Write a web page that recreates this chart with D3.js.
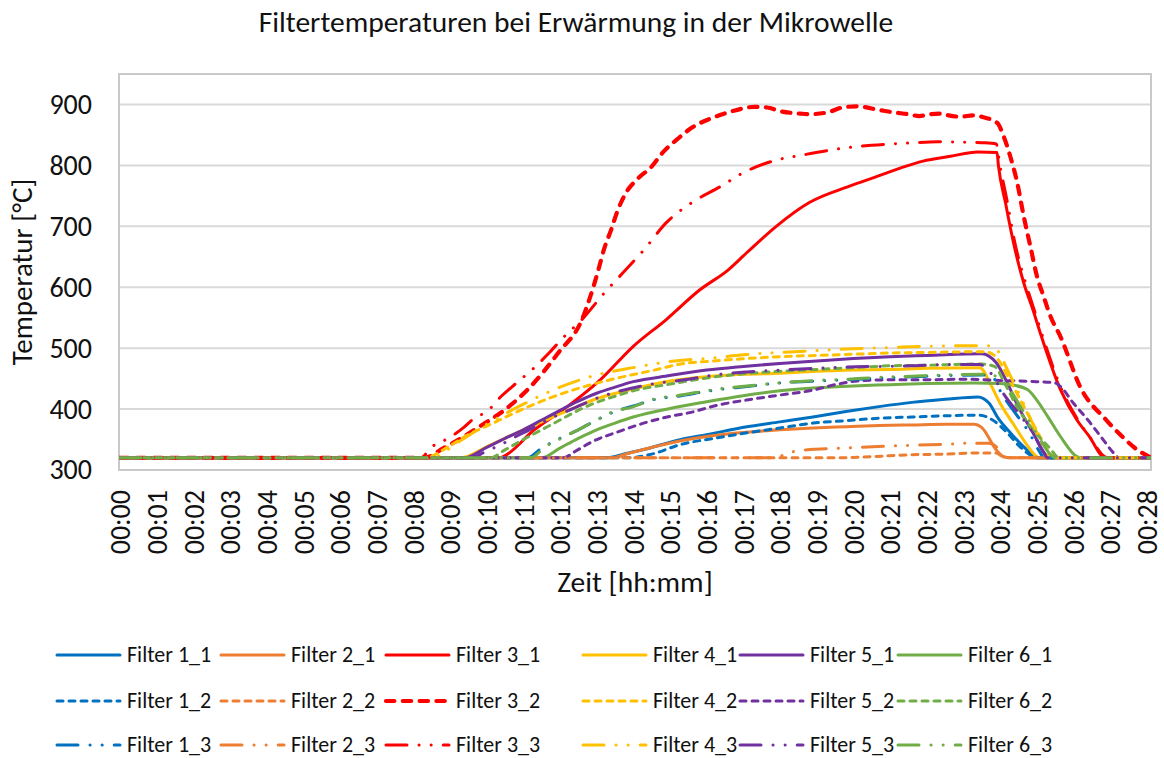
<!DOCTYPE html>
<html>
<head>
<meta charset="utf-8">
<script src="https://cdn.jsdelivr.net/npm/d3@7/dist/d3.min.js"></script>
<style>
  body { margin: 0; background: #fff; }
  svg { font-family: Carlito, Calibri, Lato, sans-serif; }
</style>
</head>
<body>
<svg id="chart" width="1164" height="758"></svg>
<script>
// ---- data (time in minutes, temperature in °C) ----
const timeTicks = [0, 1, 2, 3, 4, 5, 6, 7, 8, 9, 10, 11, 12, 13, 14, 15, 16, 17, 18, 19, 20, 21, 22, 23, 24, 25, 26, 27, 28];
const timeLabels = ["00:00", "00:01", "00:02", "00:03", "00:04", "00:05", "00:06", "00:07", "00:08", "00:09",
  "00:10", "00:11", "00:12", "00:13", "00:14", "00:15", "00:16", "00:17", "00:18", "00:19", "00:20",
  "00:21", "00:22", "00:23", "00:24", "00:25", "00:26", "00:27", "00:28"];
const tempTicks = [300, 400, 500, 600, 700, 800, 900];

const seriesNames = ["Filter 1_1", "Filter 2_1", "Filter 3_1", "Filter 4_1", "Filter 5_1", "Filter 6_1",
  "Filter 1_2", "Filter 2_2", "Filter 3_2", "Filter 4_2", "Filter 5_2", "Filter 6_2",
  "Filter 1_3", "Filter 2_3", "Filter 3_3", "Filter 4_3", "Filter 5_3", "Filter 6_3"];

const filter1_1 = [[0,320],[13.3,320],[13.8,327],[14.5,337],[15.3,350],[16,358],[17.1,371],[18,379],[18.9,387],[19.8,396],[20.7,404],[21.6,411],[22.5,416],[23.4,420],[23.7,410],[23.95,385],[24.3,360],[24.7,335],[25.0,320],[28.1,320]];
const filter2_1 = [[0,320],[13.4,320],[13.9,328],[14.5,337],[15.3,348],[16,355],[17.1,362],[18,366],[18.9,369],[19.8,371],[20.7,373],[21.6,374],[22.5,375],[23.3,375],[23.5,370],[23.9,333],[24.1,322],[24.3,320],[28.1,320]];
const filter3_1 = [[0,320],[10.35,320],[10.45,322],[11.3,366],[12.2,404],[13.1,448],[14.0,503],[14.9,547],[15.8,595],[16.6,629],[17.1,657],[17.9,700],[18.8,739],[19.9,766],[20.65,782],[21.3,796],[21.9,807],[22.65,815],[23.4,822],[23.92,821],[23.96,799],[24.15,739],[24.37,673],[24.65,607],[24.9,563],[25.1,525],[25.65,432],[26.1,382],[26.45,354],[26.8,322],[26.9,320],[28.1,320]];
const filter4_1 = [[0,320],[9.3,320],[10,338],[10.5,352],[11,366],[11.5,379],[12,392],[12.5,405],[13,417],[14,433],[15,446],[16,453],[17,457],[18,459],[19,462],[20,464],[21,465],[22,467],[23.45,468],[23.75,440],[24.0,410],[24.37,375],[24.75,340],[25.0,322],[25.1,320],[28.1,320]];
const filter5_1 = [[0,320],[9.4,320],[10,337],[10.5,352],[11,366],[11.5,382],[12,398],[12.5,413],[13,426],[13.5,436],[14,445],[15,455],[16,464],[17,470],[18,475],[19,479],[20,483],[21,486],[22,488],[23.5,491],[23.9,476],[24.2,443],[24.5,404],[24.9,361],[25.3,322],[25.4,320],[28.1,320]];
const filter6_1 = [[0,320],[11.5,320],[12,336],[12.5,352],[13,366],[13.5,377],[14,387],[15,401],[16,412],[17,422],[18,430],[19,435],[20,438],[21,440],[22,442],[23.3,443],[24,442],[24.3,440],[24.75,432],[25,415],[25.3,388],[25.65,355],[26.1,322],[26.2,320],[28.1,320]];

const filter1_2 = [[0,320],[13.8,320],[14.5,326],[15.3,342],[16.2,352],[17.1,361],[18,369],[18.9,377],[19.8,381],[20.7,385],[21.6,387],[22.5,389],[23.45,390],[23.8,382],[24.2,361],[24.55,338],[24.9,322],[25.0,320],[28.1,320]];
const filter2_2 = [[0,320],[19.5,320],[20.5,322],[21.6,325],[22.5,326],[23.45,328],[23.9,328],[24.1,321],[24.3,320],[28.1,320]];
const filter3_2 = [[0,320],[8.3,320],[8.8,335],[9.3,352],[9.8,371],[10.5,399],[11.2,437],[11.95,492],[12.6,547],[13.05,629],[13.2,662],[13.4,695],[13.55,722],[13.8,755],[14.1,777],[14.5,798],[14.8,821],[15.2,843],[15.6,862],[16.2,879],[16.7,889],[17.3,896],[17.65,895],[18.0,889],[18.55,885],[18.8,884],[19.3,887],[19.7,895],[20.1,897],[20.7,891],[21.1,887],[21.5,884],[21.8,881],[22.1,884],[22.4,885],[22.6,882],[22.9,880],[23.3,882],[23.55,879],[23.92,870],[24.1,848],[24.28,815],[24.47,772],[24.65,716],[24.83,667],[25.01,618],[25.19,585],[25.38,552],[25.65,519],[26.2,435],[26.9,382],[27.35,354],[27.75,333],[28.1,321]];
const filter4_2 = [[0,320],[8.3,320],[9,340],[9.5,358],[10,372],[10.7,392],[11.5,413],[12.5,434],[13.5,450],[14.5,463],[15.3,474],[16.2,479],[17.1,483],[18,486],[19,488],[20,490],[21,492],[22,493],[23.3,494],[23.6,494],[23.9,485],[24.2,455],[24.6,410],[25,365],[25.4,325],[25.5,320],[28.1,320]];
const filter5_2 = [[0,320],[12.1,320],[12.4,330],[12.9,347],[13.6,363],[14.4,379],[15,388],[15.6,395],[16.2,405],[17.1,415],[18,423],[18.9,431],[19.5,440],[20.1,446],[21,448],[22,448],[23,449],[24,447],[25,445],[25.5,443],[25.65,437],[26,410],[26.4,382],[26.75,355],[27.1,328],[27.25,320],[28.1,320]];
const filter6_2 = [[0,320],[10.1,320],[10.5,333],[11,350],[11.5,366],[12,382],[12.6,401],[13,411],[13.5,421],[14,430],[15,441],[16,451],[17,458],[18,462],[19,465],[20,468],[21,471],[22,472],[23.5,474],[23.85,470],[24.15,440],[24.5,400],[24.9,366],[25.4,333],[25.55,322],[25.65,320],[28.1,320]];

const filter1_3 = [[0,320],[11.1,320],[11.5,336],[12,352],[12.5,366],[13,382],[13.5,396],[14,405],[14.6,416],[15.2,421],[16.2,431],[17.1,437],[18,443],[19,446],[19.8,448],[20.7,451],[21.6,453],[22.5,455],[23.5,456],[23.8,452],[24.05,425],[24.35,399],[24.8,361],[25.1,328],[25.2,320],[28.1,320]];
const filter2_3 = [[0,320],[17.8,320],[18.35,330],[18.7,333],[19.8,336],[20.9,339],[21.8,341],[22.5,342],[23.1,344],[23.7,344],[23.9,338],[24.05,324],[24.15,320],[28.1,320]];
const filter3_3 = [[0,320],[8.2,320],[8.5,338],[8.8,347],[9.36,369],[9.6,382],[10.1,401],[10.3,415],[10.7,437],[11.3,468],[11.7,492],[12.1,518],[12.6,547],[13.2,590],[13.8,629],[14.3,662],[14.9,706],[15.6,739],[16.4,766],[17,788],[17.8,807],[18.7,818],[19.7,828],[20.5,833],[21.6,837],[22.3,839],[23.0,838],[23.6,837],[23.9,835],[24.0,800],[24.2,740],[24.4,675],[24.7,607],[24.95,560],[25.15,522],[25.7,430],[26.15,380],[26.5,350],[26.85,322],[26.95,320],[28.1,320]];
const filter4_3 = [[0,320],[8.5,320],[9.2,345],[10,375],[11,408],[12,436],[13,456],[14,468],[15,478],[16.2,484],[17,489],[18,493],[19,496],[20,499],[21,501],[22,503],[23,504],[23.7,504],[23.95,495],[24.2,465],[24.6,415],[25,362],[25.3,325],[25.4,320],[28.1,320]];
const filter5_3 = [[0,320],[9.6,320],[9.9,328],[10.4,342],[10.8,355],[11.2,367],[11.65,382],[12.4,402],[13.1,420],[13.6,429],[14.5,441],[15.4,448],[16.2,456],[17.1,461],[18,464],[19,467],[19.8,469],[20.7,470],[21.6,471],[22.6,473],[23.45,473],[23.75,459],[24.1,425],[24.65,382],[24.9,361],[25.2,328],[25.3,320],[28.1,320]];
const filter6_3 = [[0,320],[11.2,320],[11.6,338],[12.1,354],[12.5,366],[13,382],[13.5,397],[13.9,402],[14.6,417],[15.2,422],[16.2,432],[17.1,438],[18,443],[19,447],[19.8,449],[20.7,452],[21.6,454],[22.5,456],[23.5,457],[23.9,454],[24.2,438],[24.6,400],[25,360],[25.4,324],[25.5,320],[28.1,320]];

const seriesData = [filter1_1, filter2_1, filter3_1, filter4_1, filter5_1, filter6_1,
  filter1_2, filter2_2, filter3_2, filter4_2, filter5_2, filter6_2,
  filter1_3, filter2_3, filter3_3, filter4_3, filter5_3, filter6_3];

// ---- styles ----
const filterColors = ["#0070C0", "#ED7D31", "#FF0000", "#FFC000", "#7030A0", "#70AD47"];
function lineStyle(i) {
  const color = filterColors[i % 6];
  const kind = Math.floor(i / 6); // 0 solid, 1 dashed, 2 long dash dot dot
  let w = 3;
  if (i === 8) w = 4.2; // Filter 3_2 drawn heavier
  let dash = null;
  if (kind === 1) dash = `${3 * w - w} ${w + w}`;
  if (kind === 2) dash = `${8 * w - w} ${3 * w + w} 0.1 ${3 * w + w} 0.1 ${3 * w + w}`;
  return { color, w, dash };
}

// ---- layout ----
const svg = d3.select("#chart");
const plot = { left: 119, right: 1151, top: 74, bottom: 470 };
const textColor = "#111";
const fontStack = "Carlito, Calibri, Lato, sans-serif";

const x = d3.scaleLinear().domain([-0.027, 28.12]).range([plot.left, plot.right]);
const y = d3.scaleLinear().domain([300, 950]).range([plot.bottom, plot.top]);

// title
svg.append("text")
  .attr("x", 576).attr("y", 32)
  .attr("text-anchor", "middle")
  .attr("font-size", 29.5)
  .attr("fill", textColor)
  .text("Filtertemperaturen bei Erwärmung in der Mikrowelle");

// gridlines
svg.append("g")
  .selectAll("line")
  .data(tempTicks.filter(t => t > 300))
  .enter().append("line")
  .attr("x1", plot.left).attr("x2", plot.right)
  .attr("y1", d => y(d)).attr("y2", d => y(d))
  .attr("stroke", "#d9d9d9")
  .attr("stroke-width", 2);

// plot area border
svg.append("rect")
  .attr("x", plot.left).attr("y", plot.top)
  .attr("width", plot.right - plot.left)
  .attr("height", plot.bottom - plot.top)
  .attr("fill", "none")
  .attr("stroke", "#c9c9c9")
  .attr("stroke-width", 2);

// y axis
const yAxis = svg.append("g")
  .attr("transform", `translate(${plot.left},0)`)
  .call(d3.axisLeft(y).tickValues(tempTicks).tickSize(0).tickPadding(27));
yAxis.select(".domain").remove();
yAxis.selectAll("text")
  .attr("font-size", 28)
  .attr("font-family", fontStack)
  .attr("fill", textColor);

// x axis
const xAxis = svg.append("g")
  .attr("transform", `translate(0,${plot.bottom})`)
  .call(d3.axisBottom(x).tickValues(timeTicks).tickFormat((d, i) => timeLabels[i]).tickSize(0));
xAxis.select(".domain").remove();
xAxis.selectAll("text")
  .attr("font-size", 28)
  .attr("font-family", fontStack)
  .attr("fill", textColor)
  .attr("text-anchor", "end")
  .attr("dy", "0.35em")
  .attr("transform", "translate(0,20) rotate(-90)")
  .attr("x", 0).attr("y", 0);

// axis titles
svg.append("text")
  .attr("transform", `translate(32,${(plot.top + plot.bottom) / 2}) rotate(-90)`)
  .attr("text-anchor", "middle")
  .attr("font-size", 29)
  .attr("fill", textColor)
  .text("Temperatur [°C]");

svg.append("text")
  .attr("x", (plot.left + plot.right) / 2).attr("y", 592)
  .attr("text-anchor", "middle")
  .attr("font-size", 29.5)
  .attr("fill", textColor)
  .text("Zeit [hh:mm]");

// lines
svg.append("clipPath").attr("id", "plotClip")
  .append("rect")
  .attr("x", plot.left).attr("y", plot.top)
  .attr("width", plot.right - plot.left)
  .attr("height", plot.bottom - plot.top);

const line = d3.line()
  .x(d => x(d[0]))
  .y(d => y(d[1]))
  .curve(d3.curveMonotoneX);

const lines = svg.append("g").attr("clip-path", "url(#plotClip)");
seriesData.forEach((s, i) => {
  const st = lineStyle(i);
  lines.append("path")
    .datum(s)
    .attr("d", line)
    .attr("fill", "none")
    .attr("stroke", st.color)
    .attr("stroke-width", st.w)
    .attr("stroke-linecap", "round")
    .attr("stroke-linejoin", "round")
    .attr("stroke-dasharray", st.dash);
});

// legend
const legendTextX = [127, 291, 456, 653, 810, 968];
const legendRowY = [655, 701, 745];
const legend = svg.append("g").attr("class", "legend");
seriesNames.forEach((name, i) => {
  const st = lineStyle(i);
  const col = i % 6, row = Math.floor(i / 6);
  const g = legend.append("g").attr("transform", `translate(${legendTextX[col]},${legendRowY[row]})`);
  g.append("line")
    .attr("x1", -70).attr("x2", -7)
    .attr("y1", 0).attr("y2", 0)
    .attr("stroke", st.color)
    .attr("stroke-width", st.w)
    .attr("stroke-linecap", "round")
    .attr("stroke-dasharray", st.dash);
  g.append("text")
    .attr("x", 0).attr("y", 0)
    .attr("dy", "0.3em")
    .attr("font-size", 22)
    .attr("fill", textColor)
    .text(name);
});
</script>
</body>
</html>
